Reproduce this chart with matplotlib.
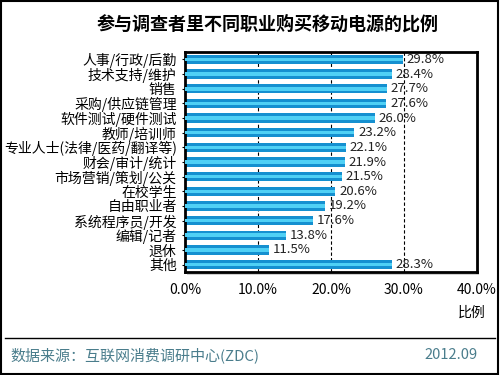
import matplotlib.pyplot as plt
from matplotlib.patches import Rectangle
from matplotlib.lines import Line2D

plt.rcParams["font.family"] = ["Noto Sans CJK SC", "DejaVu Sans"]

categories = ["人事/行政/后勤", "技术支持/维护", "销售", "采购/供应链管理", "软件测试/硬件测试",
              "教师/培训师", "专业人士(法律/医药/翻译等)", "财会/审计/统计", "市场营销/策划/公关",
              "在校学生", "自由职业者", "系统程序员/开发", "编辑/记者", "退休", "其他"]
values = [29.8, 28.4, 27.7, 27.6, 26.0, 23.2, 22.1, 21.9, 21.5, 20.6, 19.2, 17.6, 13.8, 11.5, 28.3]
xticks = [0, 10, 20, 30, 40]

fig = plt.figure(figsize=(5, 3.75), dpi=100)
ax = fig.add_axes([0.37, 0.275, 0.584, 0.586])

# soft shadow behind the plot frame
fig.add_artist(Rectangle((0.374, 0.268), 0.584, 0.586, transform=fig.transFigure,
                         facecolor="#d0d0d0", edgecolor="none", zorder=0))

y = list(range(len(categories)))
ax.barh(y, values, height=0.64, color="#1590d0", zorder=2)
ax.barh(y, values, height=0.24, color="#4fd0f5", zorder=3)

for yi, v in zip(y, values):
    ax.text(v + 0.5, yi, f"{v:.1f}%", va="center", ha="left", fontsize=9.5, color="#222222", zorder=4)

for xv in [10, 20, 30]:
    ax.axvline(xv, color="black", ls=(0, (3, 2)), lw=0.8, zorder=1)

ax.set_xlim(0, 40)
ax.set_ylim(len(categories) - 0.5, -0.5)
ax.set_yticks(y)
ax.set_yticklabels(categories, fontsize=10)
ax.set_xticks(xticks)
ax.set_xticklabels([f"{t:.1f}%" for t in xticks], fontsize=10)
ax.tick_params(axis="x", length=0, pad=8)
ax.tick_params(axis="y", length=2, pad=4)
for s in ax.spines.values():
    s.set_linewidth(2)

fig.text(0.535, 0.935, "参与调查者里不同职业购买移动电源的比例", ha="center", va="center",
         fontsize=13, fontweight="bold")
fig.text(0.944, 0.165, "比例", ha="center", va="center", fontsize=10)

fig.add_artist(Rectangle((0.002, 0.003), 0.994, 0.994, transform=fig.transFigure,
                         fill=False, edgecolor="black", lw=1.5))
fig.add_artist(Line2D([0.01, 0.99], [0.098, 0.098], transform=fig.transFigure, color="black", lw=1))
fig.text(0.02, 0.053, "数据来源：互联网消费调研中心(ZDC)", ha="left", va="center",
         fontsize=10.8, color="#4a7d8c")
fig.text(0.956, 0.053, "2012.09", ha="right", va="center", fontsize=10.5, color="#4a7d8c")

plt.savefig("out.png", dpi=100)
